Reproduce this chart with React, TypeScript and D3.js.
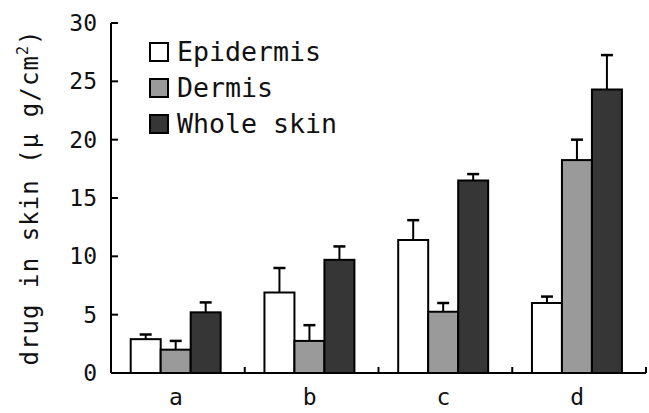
import React from 'react';
import * as d3 from 'd3';

const categories = ['a', 'b', 'c', 'd'];
const seriesNames = ['Epidermis', 'Dermis', 'Whole skin'];
const epidermis = [2.9, 6.9, 11.4, 6.0];
const epidermisErr = [0.4, 2.1, 1.7, 0.55];
const dermis = [2.0, 2.75, 5.25, 18.25];
const dermisErr = [0.75, 1.35, 0.75, 1.75];
const wholeSkin = [5.2, 9.7, 16.5, 24.3];
const wholeSkinErr = [0.85, 1.15, 0.55, 2.95];
const yTicks = [0, 5, 10, 15, 20, 25, 30];

const fills = ['#ffffff', '#9a9a9a', '#363636'];
const font = '"DejaVu Sans Mono", monospace';

const W = 649, H = 413;
const left = 111, right = 646, top = 23, bottom = 373;

export default function App() {
  const x = d3.scaleBand().domain(categories).range([left, right]).paddingInner(0).paddingOuter(0);
  // three bars ~30px wide, centred in each category band
  const xs = d3.scaleBand().domain(seriesNames).range([0, x.bandwidth()]).paddingInner(0).paddingOuter(0.73).align(0.45);
  const y = d3.scaleLinear().domain([0, 30]).range([bottom, top]);

  const series = [
    { name: seriesNames[0], vals: epidermis, errs: epidermisErr },
    { name: seriesNames[1], vals: dermis, errs: dermisErr },
    { name: seriesNames[2], vals: wholeSkin, errs: wholeSkinErr },
  ];

  return (
    <svg width={W} height={H} style={{ position: 'absolute', left: 0, top: 0, background: '#fff' }}>
      {/* bars + error bars */}
      {series.map((s, si) =>
        categories.map((c, ci) => {
          const bx = (x(c) as number) + (xs(s.name) as number);
          const bw = xs.bandwidth();
          const cx = bx + bw / 2;
          const v = s.vals[ci];
          const e = v + s.errs[ci];
          return (
            <g key={s.name + c}>
              <line x1={cx} x2={cx} y1={y(v)} y2={y(e)} stroke="#000" strokeWidth={2} />
              <line x1={cx - 6} x2={cx + 6} y1={y(e)} y2={y(e)} stroke="#000" strokeWidth={2.5} />
              <rect x={bx} y={y(v)} width={bw} height={y(0) - y(v)} fill={fills[si]} stroke="#000" strokeWidth={2} />
            </g>
          );
        })
      )}
      {/* axes */}
      <line x1={left} x2={left} y1={top} y2={bottom} stroke="#000" strokeWidth={2} />
      <line x1={left} x2={right} y1={bottom} y2={bottom} stroke="#000" strokeWidth={2} />
      {yTicks.map(t => (
        <g key={t}>
          <line x1={left} x2={left + 7} y1={y(t)} y2={y(t)} stroke="#000" strokeWidth={2} />
          <text x={97} y={y(t) + 8} textAnchor="end" fontFamily={font} fontSize={23} fill="#111">{t}</text>
        </g>
      ))}
      {categories.map(c => (
        <g key={c}>
          <line x1={(x(c) as number) + x.bandwidth()} x2={(x(c) as number) + x.bandwidth()} y1={bottom} y2={bottom - 6} stroke="#000" strokeWidth={2} />
          <text x={(x(c) as number) + x.bandwidth() / 2 - 2} y={405} textAnchor="middle" fontFamily={font} fontSize={23} fill="#111">{c}</text>
        </g>
      ))}
      {/* y label */}
      <text transform={`translate(38,198) rotate(-90)`} textAnchor="middle" fontFamily={font} fontSize={24} fill="#111"
        textLength={335} lengthAdjust="spacing">
        drug in skin (μ g/cm<tspan fontSize={15} dy={-10}>2</tspan><tspan dy={10}>)</tspan>
      </text>
      {/* legend */}
      {series.map((s, i) => (
        <g key={s.name} transform={`translate(150,${43 + i * 36})`}>
          <rect x={0} y={0} width={18} height={18} fill={fills[i]} stroke="#000" strokeWidth={2} />
          <text x={27} y={18} fontFamily={font} fontSize={26} fill="#111"
            textLength={s.name.length * 16} lengthAdjust="spacingAndGlyphs">{s.name}</text>
        </g>
      ))}
    </svg>
  );
}
